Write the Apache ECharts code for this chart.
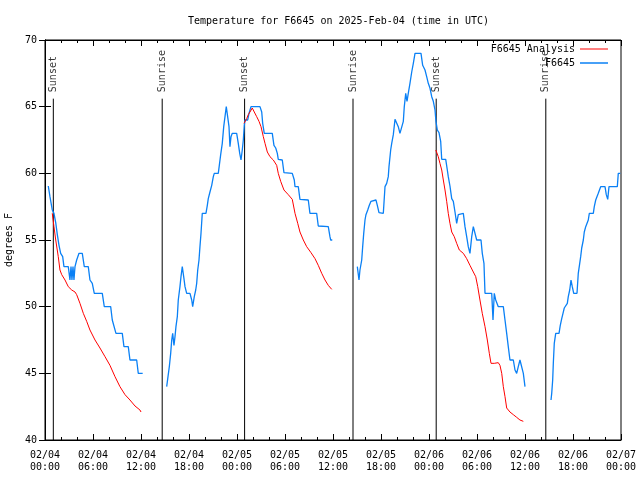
<!DOCTYPE html>
<html><head><meta charset="utf-8">
<script src="https://cdn.jsdelivr.net/npm/echarts/dist/echarts.min.js"></script>
<style>html,body{margin:0;padding:0;background:#fff}#c{width:640px;height:480px}</style>
</head><body><div id="c"></div>
<script>
const chartTitle = "Temperature for F6645 on 2025-Feb-04 (time in UTC)";
const xTickLabels = ["02/04\n00:00","02/04\n06:00","02/04\n12:00","02/04\n18:00","02/05\n00:00","02/05\n06:00","02/05\n12:00","02/05\n18:00","02/06\n00:00","02/06\n06:00","02/06\n12:00","02/06\n18:00","02/07\n00:00"];
const sunHours = [1.04, 14.65, 24.95, 38.5, 48.9, 62.6];
const sunLabels = ["Sunset","Sunrise","Sunset","Sunrise","Sunset","Sunrise"];
const sunLineTop = 65.6;

// hours since 02/04 00:00 UTC ; null = gap
const blueHours = [0.41,0.62,0.91,1.12,1.34,1.54,1.75,1.96,2.21,2.37,2.91,3.12,3.25,3.37,3.5,3.62,3.75,3.96,4.25,4.66,4.91,5.41,5.62,5.91,6.16,7.16,7.41,8.21,8.41,8.87,9.66,9.87,10.41,10.62,11.46,11.66,12.21,
 null,
 15.21,15.41,15.54,15.71,15.84,15.96,16.12,16.25,16.37,16.54,16.66,16.87,17.0,17.16,17.37,17.5,17.71,18.12,18.34,18.46,18.66,18.84,18.96,19.09,19.25,19.37,19.5,19.66,20.12,20.29,20.41,20.62,20.84,21.04,21.16,21.66,21.79,21.96,22.16,22.34,22.5,22.66,22.87,23.0,23.12,23.25,23.41,23.96,24.16,24.34,24.5,24.66,24.79,24.91,25.0,25.34,25.5,25.75,26.87,27.09,27.21,27.41,28.41,28.62,28.84,29.04,29.16,29.66,29.87,30.91,31.16,31.25,31.66,31.87,32.91,33.12,33.96,34.16,35.41,35.62,35.71,35.91,
 null,
 39.04,39.25,39.37,39.59,39.71,39.84,40.0,40.12,40.34,40.54,40.75,40.96,41.37,41.54,41.75,42.29,42.5,42.71,42.91,43.0,43.21,43.34,43.54,43.75,43.96,44.16,44.37,44.59,44.79,44.91,45.09,45.25,45.41,45.62,45.84,46.04,46.25,47.0,47.21,47.5,47.71,47.91,48.12,48.34,48.54,48.75,48.87,49.04,49.25,49.46,49.59,50.09,50.29,50.41,50.62,50.84,51.04,51.25,51.46,51.66,51.87,52.29,52.5,52.71,52.91,53.12,53.34,53.54,53.75,53.96,54.5,54.66,54.87,55.0,55.84,56.0,56.16,56.34,56.66,57.29,57.5,57.71,57.91,58.12,58.54,58.75,58.96,59.16,59.37,59.59,59.79,60.0,
 null,
 63.25,63.34,63.46,63.54,63.66,63.84,64.25,64.41,64.59,64.75,64.91,65.09,65.29,65.41,65.59,65.75,65.91,66.09,66.5,66.66,66.84,66.96,67.09,67.29,67.41,67.59,67.79,67.91,68.04,68.54,68.66,68.84,69.04,69.16,69.46,70.0,70.16,70.34,70.5,71.54,71.66,71.91];
const blueTemps = [59.05,58.25,57.25,57.0,56.3,55.4,54.6,54.0,53.75,53.0,53.0,52.0,53.0,52.0,53.0,52.0,53.0,53.5,54.0,54.0,53.0,53.0,52.0,51.75,51.0,51.0,50.0,50.0,49.0,48.0,48.0,47.0,47.0,46.0,46.0,45.0,45.0,
 null,
 44.0,44.0,45.5,46.5,47.5,48.0,47.1,47.75,48.5,49.25,50.5,51.5,52.25,53.0,52.1,51.5,51.0,51.0,50.5,50.0,50.75,51.25,51.75,52.75,53.5,54.5,55.5,57.0,57.0,57.6,58.1,58.6,59.1,59.75,60.0,60.0,60.6,61.4,62.25,63.5,64.25,65.0,65.0,63.5,62.0,62.75,63.0,63.0,62.25,61.5,61.0,61.75,62.5,63.6,64.0,64.0,64.5,65.0,65.0,64.6,63.75,63.0,63.0,62.1,61.9,61.5,61.05,61.0,60.05,60.0,59.5,59.0,59.0,58.05,58.0,57.0,57.0,56.05,56.0,55.25,55.0,55.0,
 null,
 53.0,52.0,52.75,53.5,54.5,55.5,56.5,56.9,57.25,57.6,57.9,58.0,58.0,57.6,57.05,57.0,59.0,59.25,59.75,60.5,61.75,62.25,62.9,64.05,64.0,63.5,63.0,63.0,63.9,65.0,66.0,65.4,66.0,66.75,67.6,68.25,69.0,69.0,68.1,67.75,67.25,66.75,66.4,65.75,65.4,64.75,63.9,63.25,63.05,62.4,61.05,61.05,60.25,59.75,59.05,58.1,57.9,57.1,56.25,56.9,57.0,57.0,56.0,55.25,54.5,54.0,55.25,56.0,56.0,55.0,55.0,54.0,53.25,51.0,51.0,49.0,51.0,50.5,50.0,50.0,49.0,48.0,47.0,46.0,46.0,45.25,45.0,45.5,46.0,46.0,45.0,44.0,
 null,
 43.0,43.5,44.5,45.75,47.25,48.0,48.0,48.6,49.1,49.5,49.9,50.05,50.25,50.75,51.25,52.0,51.5,51.0,51.0,52.5,53.25,53.75,54.4,55.0,55.6,56.0,56.0,56.5,57.0,57.0,57.5,58.0,58.1,58.5,59.0,59.0,58.4,58.05,59.0,59.0,60.0,60.0];

const redHours = [0.91,1.12,1.34,1.66,1.87,2.09,2.5,2.91,3.34,3.75,3.96,4.37,4.79,5.21,5.62,6.25,6.87,7.5,8.12,8.75,9.37,10.0,10.62,11.25,11.87,12.0,
 null,
 24.87,25.21,25.41,25.62,25.91,26.16,26.46,26.75,27.0,27.29,27.5,27.79,28.12,28.54,28.96,29.16,29.46,29.87,30.41,30.91,31.25,31.59,31.87,32.29,32.71,33.25,33.75,34.16,34.59,35.0,35.41,35.84,
 null,
 48.85,49.16,49.37,49.59,49.79,50.0,50.21,50.41,50.62,50.84,51.16,51.46,51.79,52.29,52.71,53.12,53.54,53.84,54.09,54.37,54.66,55.0,55.29,55.54,55.75,56.16,56.66,56.87,57.09,57.29,57.5,57.71,58.12,58.54,58.96,59.37,59.79];
const redTemps = [57.0,56.0,55.0,53.75,52.75,52.4,52.0,51.5,51.25,51.1,50.9,50.25,49.5,48.9,48.25,47.5,46.9,46.25,45.6,44.75,44.0,43.4,43.0,42.55,42.25,42.1,
 null,
 63.75,64.1,64.4,64.6,64.9,64.6,64.25,63.9,63.5,62.75,62.25,61.6,61.25,61.0,60.6,60.0,59.4,58.75,58.4,58.05,57.0,56.25,55.6,55.0,54.5,54.05,53.6,53.1,52.5,52.0,51.6,51.3,
 null,
 61.75,61.25,60.75,60.25,59.5,58.75,57.9,57.0,56.25,55.6,55.25,54.75,54.25,54.0,53.6,53.1,52.6,52.25,51.5,50.5,49.5,48.5,47.5,46.5,45.75,45.75,45.8,45.6,45.0,44.0,43.25,42.4,42.1,41.9,41.7,41.5,41.4];

const FONT = "DejaVu Sans Mono";
function pairs(hs, ts){ return hs.map((h,i)=> h===null ? ['-','-'] : [h, ts[i]]); }
const sunLineData = [];
sunHours.forEach(h=>{ sunLineData.push([h,40],[h,sunLineTop],['-','-']); });

const chart = echarts.init(document.getElementById('c'), null, {renderer:'canvas'});
const axisCommon = {
  type:'value', min:0, max:72, interval:6,
  axisLine:{show:true, onZero:false, lineStyle:{color:'#000',width:1}},
  splitLine:{show:false}
};
const legendText = {fontFamily:FONT,fontSize:10,color:'#000'};
chart.setOption({
  animation:false,
  backgroundColor:'#fff',
  title:{text:chartTitle, left:183, top:11, textStyle:{fontFamily:FONT,fontSize:10,fontWeight:'normal',color:'#000'}},
  legend:[
    {data:[{name:'F6645 Analysis', icon:'rect'}], right:27, top:39, align:'right', orient:'vertical', itemWidth:28, itemHeight:1, textStyle:legendText},
    {data:[{name:'F6645', icon:'rect'}], right:27, top:53, align:'right', orient:'vertical', itemWidth:28, itemHeight:1.5, textStyle:legendText}
  ],
  grid:{left:45, right:19, top:40, bottom:40, show:true, borderColor:'#000', borderWidth:1, backgroundColor:'transparent', containLabel:false, outerBoundsMode:'none'},
  xAxis:[
    Object.assign({}, axisCommon, {position:'bottom',
      axisTick:{show:true, inside:true, length:6, lineStyle:{color:'#000'}},
      minorTick:{show:true, splitNumber:3, length:3, lineStyle:{color:'#000'}},
      axisLabel:{formatter:v=>xTickLabels[Math.round(v/6)], color:'#000', fontFamily:FONT, fontSize:10, lineHeight:12, margin:9}}),
    Object.assign({}, axisCommon, {position:'top',
      axisTick:{show:true, inside:true, length:6, lineStyle:{color:'#000'}},
      minorTick:{show:true, splitNumber:3, length:3, lineStyle:{color:'#000'}},
      axisLabel:{show:false}})
  ],
  yAxis:[
    {type:'value', min:40, max:70, interval:5, position:'left',
     name:'degrees F', nameLocation:'middle', nameRotate:90, nameGap:30,
     nameTextStyle:{fontFamily:FONT,fontSize:10,color:'#000'},
     axisLine:{show:true, lineStyle:{color:'#000'}},
     axisTick:{show:true, inside:true, length:6, lineStyle:{color:'#000'}},
     splitLine:{show:false},
     axisLabel:{color:'#000', fontFamily:FONT, fontSize:10, margin:8}},
    {type:'value', min:40, max:70, interval:5, position:'right',
     axisLine:{show:true, lineStyle:{color:'#000'}},
     axisTick:{show:true, inside:true, length:6, lineStyle:{color:'#000'}},
     splitLine:{show:false}, axisLabel:{show:false}}
  ],
  series:[
    {name:'sun', type:'line', data:sunLineData, symbol:'none', connectNulls:false,
     lineStyle:{color:'#000', width:1}, silent:true, z:1},
    {name:'sunLabels', type:'scatter', data:sunHours.map(h=>[h,sunLineTop]), symbolSize:1,
     itemStyle:{color:'rgba(0,0,0,0)'}, silent:true, z:1,
     label:{show:true, formatter:p=>sunLabels[p.dataIndex], position:'top', distance:6, rotate:90,
       align:'left', verticalAlign:'middle', fontFamily:FONT, fontSize:10, color:'#000'}},
    {name:'F6645 Analysis', type:'line', data:pairs(redHours, redTemps), symbol:'none', showSymbol:false,
     connectNulls:false, lineStyle:{color:'#ff0000', width:1}, itemStyle:{color:'#ff0000'}, z:3},
    {name:'F6645', type:'line', data:pairs(blueHours, blueTemps), symbol:'none', showSymbol:false,
     connectNulls:false, lineStyle:{color:'#0a80f5', width:1.3}, itemStyle:{color:'#0a80f5'}, z:2}
  ]
});
</script>
</body></html>
